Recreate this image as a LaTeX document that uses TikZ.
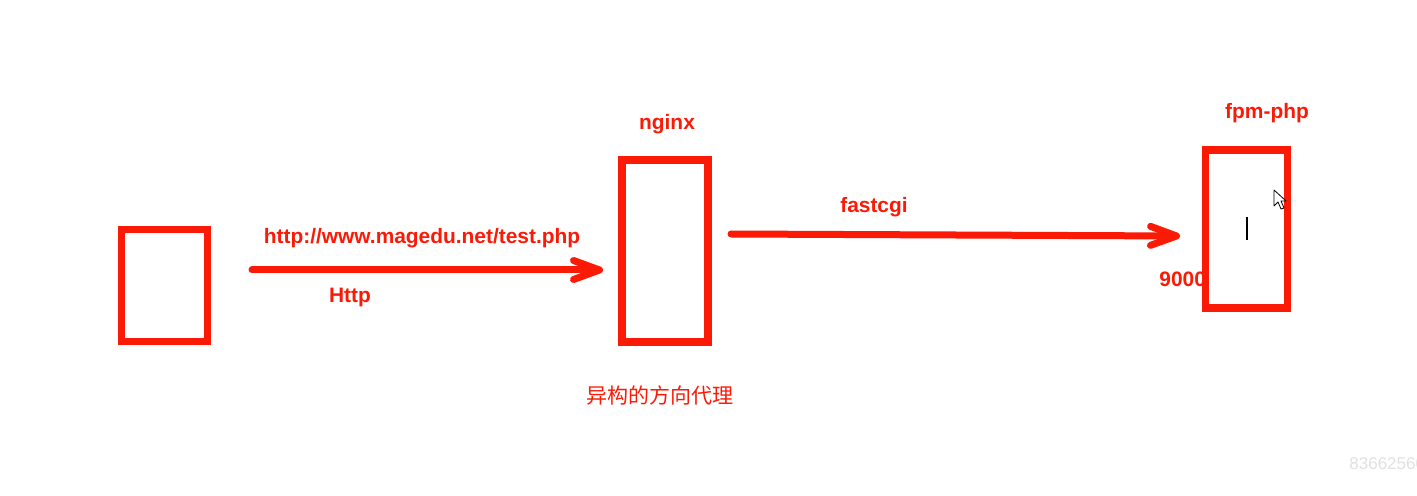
\documentclass[tikz,border=0pt]{standalone}
\usepackage{fontspec}
\setmainfont{Liberation Sans}
\newfontfamily\cjk{Noto Sans CJK SC}
\usepackage{xcolor}
\usetikzlibrary{arrows.meta}
\definecolor{penred}{RGB}{250,26,6}
\tikzset{
  box/.style={draw=penred, line width=3.8pt, inner sep=0pt},
  lbl/.style={text=penred, font=\bfseries\fontsize{10.45pt}{12pt}\selectfont, inner sep=0pt},
  pen/.style={draw=penred, line width=3.5pt, line cap=round,
    -{Straight Barb[length=13pt, width=9.5pt, round]}},
}
\begin{document}
\begin{tikzpicture}[x=0.5pt, y=-0.5pt]
    \useasboundingbox (0,0) rectangle (1417,496);
    % Labels
    \node[lbl] (url) at (422,238) {http://www.magedu.net/test.php};
    \node[lbl] (http) at (350,297) {Http};
    \node[lbl] (nginxlbl) at (667,124) {nginx};
    \node[lbl] (fcgi) at (874,207) {fastcgi};
    \node[lbl] (fpmlbl) at (1267,113) {fpm-php};
    \node[lbl, anchor=west] (port) at (1159,279) {9000};
    \node[text=penred, font=\cjk\fontsize{10.5pt}{12pt}\selectfont, inner sep=0pt] (proxy) at (660,395) {异构的方向代理};
    % Boxes
    \node[box, minimum width=43pt, minimum height=56pt] (client) at (164.5,285.5) {};
    \node[box, minimum width=43pt, minimum height=91pt] (nginx) at (665,251) {};
    \node[box, minimum width=41pt, minimum height=79pt] (fpm) at (1246.5,229) {};
    % Arrows
    \coordinate (c1) at (252,270);
    \coordinate (n1) at (603,270);
    \coordinate (n2) at (731,234);
    \coordinate (f1) at (1180,236);
    \draw[pen] (c1) -- (n1);
    \draw[pen] (n2) -- (f1);
    % Cursors
    \draw[line width=1pt] (1247,217) -- (1247,240);
    \draw[fill=white, line width=0.4pt, line join=round]
      (1274,190) -- (1274,206) -- (1278,202) -- (1281,209) -- (1284,208) -- (1281,201) -- (1286,201) -- cycle;
    % Watermark
    \node[text=black!12, font=\fontsize{8.5pt}{9pt}\selectfont, anchor=west, inner sep=0pt] (mark) at (1349,464) {83662560};
\end{tikzpicture}
\end{document}
